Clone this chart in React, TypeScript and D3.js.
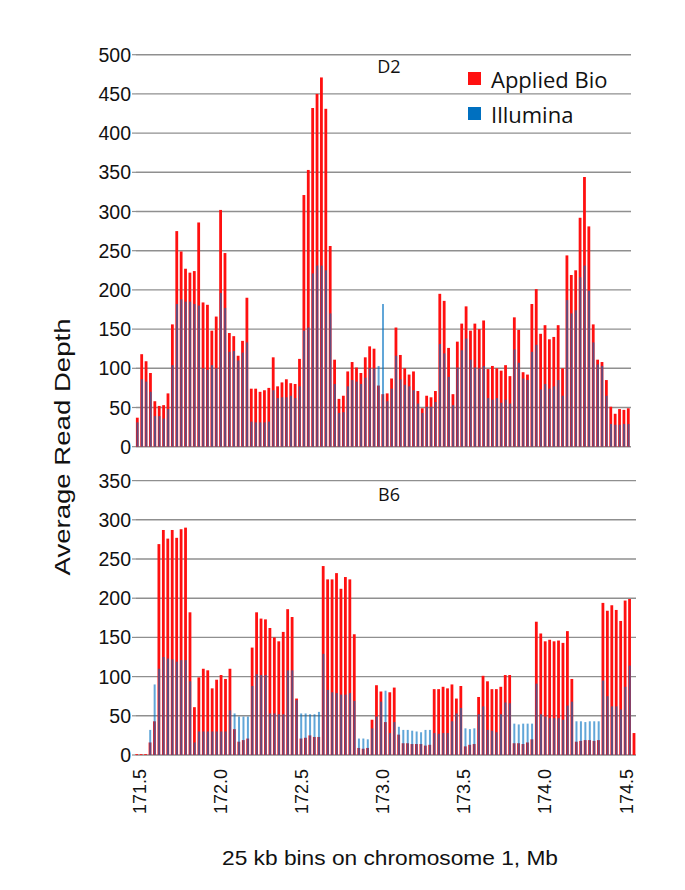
import React from 'react';
import * as d3 from 'd3';

// D2 panel (top) – 25 kb bins, average read depth
const d2AppliedBio = [37,118,109,94,58,52,53,68,156,275,249,227,222,224,286,184,181,148,166,302,247,145,141,116,135,190,74,74,70,72,75,114,77,82,86,81,80,112,321,353,432,450,471,431,256,111,61,65,96,108,101,94,114,128,125,78,67,68,87,152,117,100,92,96,71,49,65,63,71,195,186,126,67,134,157,179,148,157,150,161,99,103,100,97,104,90,165,149,95,92,182,201,144,155,137,140,155,100,244,219,225,292,344,281,156,111,108,85,51,42,48,47,49];
const d2Illumina = [31,86,83,70,39,39,36,48,104,182,188,185,185,182,180,100,98,104,100,196,177,121,122,110,120,133,32,31,31,31,32,72,62,63,63,65,62,77,148,152,221,231,231,225,170,80,43,44,77,85,83,80,88,100,100,103,182,58,74,116,86,79,77,72,55,43,51,51,57,131,119,89,53,101,123,138,111,101,100,103,62,60,62,56,60,55,124,107,87,85,121,130,73,80,74,77,85,65,187,170,174,216,231,199,133,105,103,65,29,28,28,29,29];

// B6 panel (bottom)
const b6AppliedBio = [1,1,1,16,43,269,287,276,287,277,288,290,182,61,99,110,108,85,96,102,97,110,33,17,19,21,137,182,174,173,162,150,145,157,186,176,72,21,22,25,23,23,241,224,224,232,212,227,224,154,9,8,9,45,89,81,42,80,86,26,15,15,14,14,14,12,13,84,84,87,85,90,72,88,11,13,14,74,101,94,84,84,87,102,102,15,15,14,16,20,170,155,145,147,145,146,143,158,97,17,18,19,19,18,19,194,184,191,185,171,197,199,28];
const b6Illumina = [0,0,0,32,90,110,125,123,122,119,121,121,94,16,30,30,30,30,30,30,30,57,53,49,49,49,88,103,102,102,53,53,52,52,108,108,70,53,53,52,52,55,129,83,80,79,77,77,79,69,21,21,20,34,49,68,82,28,42,36,32,32,31,30,29,32,32,28,27,28,28,43,53,60,34,33,34,52,62,32,31,29,52,67,66,40,39,40,40,40,91,52,49,47,47,47,45,63,68,43,43,42,43,43,43,95,75,62,62,58,87,114,0];

const d2Ticks = [0, 50, 100, 150, 200, 250, 300, 350, 400, 450, 500];
const b6Ticks = [0, 50, 100, 150, 200, 250, 300, 350];
const xTickValues = [171.5, 172.0, 172.5, 173.0, 173.5, 174.0, 174.5];
const xTickLabels = ['171.5', '172.0', '172.5', '173.0', '173.5', '174.0', '174.5'];
const seriesNames = ['Applied Bio', 'Illumina'];
const panelNames = ['D2', 'B6'];

const RED = '#ff1010';
const BLUE = '#0070c0';
const GRID = '#8f8f8f';
const ARIAL = '"Liberation Sans", Arial, sans-serif';
const CAL = '"Open Sans", "Noto Sans", sans-serif';

type PanelProps = {
  ab: number[];
  il: number[];
  ticks: number[];
  yMax: number;
  yTop: number;
  yBottom: number;
  xFirst: number;
  xLast: number;
  gridRight: number;
  title: string;
  titleY: number;
};

function Panel({ ab, il, ticks, yMax, yTop, yBottom, xFirst, xLast, gridRight, title, titleY }: PanelProps) {
  const y = d3.scaleLinear().domain([0, yMax]).range([yBottom, yTop]);
  const x = d3.scalePoint<number>().domain(ab.map((_, i) => i)).range([xFirst, xLast]);
  const gridLeft = 136;
  return (
    <g>
      {ticks.map((t) => (
        <g key={t}>
          <line x1={gridLeft} x2={gridRight} y1={y(t)} y2={y(t)} stroke={GRID} strokeWidth={1.4} />
          <line x1={gridLeft - 4} x2={gridLeft} y1={y(t)} y2={y(t)} stroke={GRID} strokeWidth={1.2} />
          <text x={131} y={y(t)} textAnchor="end" dominantBaseline="central" fontFamily={ARIAL} fontSize={19.5} fill="#111">
            {t}
          </text>
        </g>
      ))}
      {ab.map((v, i) => (
        <rect key={'a' + i} x={(x(i) as number) - 1.4} width={2.8} y={y(v)} height={Math.max(0.8, y(0) - y(v))} fill={RED} />
      ))}
      {il.map((v, i) => (
        <rect key={'b' + i} x={(x(i) as number) - 0.8} width={2.0} y={y(v)} height={y(0) - y(v)} fill={BLUE} fillOpacity={0.62} />
      ))}
      <text x={389} y={titleY} textAnchor="middle" fontFamily={CAL} fontSize={18} fill="#111">
        {title}
      </text>
    </g>
  );
}

export default function App() {
  const xAxis = d3.scaleLinear().domain([171.5, 174.5]).range([139.5, 626.5]);
  return (
    <svg width={685} height={890} style={{ position: 'absolute', left: 0, top: 0, background: '#fff' }}>
      <rect x={0} y={0} width={685} height={890} fill="#fff" />
      <Panel ab={d2AppliedBio} il={d2Illumina} ticks={d2Ticks} yMax={500} yTop={54.7} yBottom={446.7}
        xFirst={137.3} xLast={628.3} gridRight={631} title={panelNames[0]} titleY={73} />
      <Panel ab={b6AppliedBio} il={b6Illumina} ticks={b6Ticks} yMax={350} yTop={480.6} yBottom={755}
        xFirst={136.7} xLast={634} gridRight={636} title={panelNames[1]} titleY={501} />

      {xTickValues.map((t, i) => (
        <text key={t} transform={`translate(${xAxis(t)},769) rotate(-90)`} textAnchor="end" dominantBaseline="central"
          fontFamily={ARIAL} fontSize={18} fill="#111">
          {xTickLabels[i]}
        </text>
      ))}

      {/* legend */}
      <rect x={468} y={72} width={13} height={13} fill={RED} />
      <text x={491} y={78.5} dominantBaseline="central" fontFamily={CAL} fontSize={22} fill="#111">{seriesNames[0]}</text>
      <rect x={468} y={107} width={13} height={13} fill={BLUE} />
      <text x={491} y={113.5} dominantBaseline="central" fontFamily={CAL} fontSize={22} fill="#111">{seriesNames[1]}</text>

      {/* axis titles */}
      <text transform="translate(62,447) rotate(-90)" textAnchor="middle" dominantBaseline="central"
        fontFamily={ARIAL} fontSize={22} fill="#111" textLength={257} lengthAdjust="spacingAndGlyphs">
        Average Read Depth
      </text>
      <text x={390} y={857} textAnchor="middle" dominantBaseline="central" fontFamily={ARIAL} fontSize={21} fill="#111"
        textLength={336} lengthAdjust="spacingAndGlyphs">
        25 kb bins on chromosome 1, Mb
      </text>
    </svg>
  );
}
